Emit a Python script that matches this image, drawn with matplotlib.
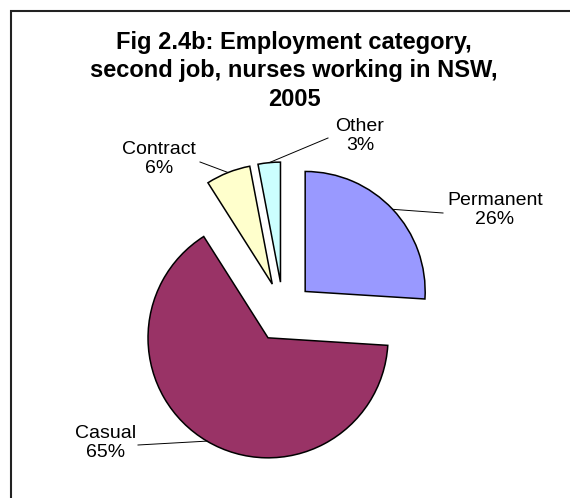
import numpy as np
import matplotlib
matplotlib.use("Agg")
import matplotlib.pyplot as plt

# Employment category, second job (per cent)
categories = ["Permanent", "Casual", "Contract", "Other"]
shares = [26, 65, 6, 3]
colors = ["#9999FF", "#993366", "#FFFFCC", "#CCFFFF"]

W, H = 570, 498
fig = plt.figure(figsize=(W / 100, H / 100), dpi=100)
ax = fig.add_axes([0, 0, 1, 1])

plt.rcParams["font.family"] = ["Liberation Sans", "DejaVu Sans"]

# frame around the chart area (runs off the right and bottom)
ax.plot([11, 11, W + 10], [-10, H - 11, H - 11], color="#222222", lw=1.5,
        solid_joinstyle="miter", clip_on=False)

radius = 120
center = (283.3, H - 312)
explode = [30] * len(shares)

wedges, _ = ax.pie(shares, colors=colors, startangle=90, counterclock=False,
                   radius=radius, center=center, explode=explode,
                   wedgeprops=dict(edgecolor="black", linewidth=1.1),
                   frame=True)
ax.set_xlim(0, W)
ax.set_ylim(0, H)
ax.set_aspect("equal")
ax.axis("off")

# label block centres and leader-line end points (pixel space, y down)
label_pos = {"Permanent": (495, 210), "Casual": (106, 443),
             "Contract": (159, 159), "Other": (360, 136)}
leader_end = {"Permanent": (443, 213), "Casual": (138, 445),
              "Contract": (200, 162), "Other": (328, 138)}

for w, name, val in zip(wedges, categories, shares):
    mid = np.deg2rad(0.5 * (w.theta1 + w.theta2))
    cx, cy = w.center
    sx, sy = cx + w.r * np.cos(mid), cy + w.r * np.sin(mid)
    ex, ey = leader_end[name]
    ax.plot([sx, ex], [sy, H - ey], color="black", lw=0.7)
    lx, ly = label_pos[name]
    ax.text(lx, H - ly, f"{name}\n{val}%", ha="center", va="center",
            fontsize=14, linespacing=1.15, color="black")

fig.text(294 / W, 1 - 71 / H,
         "Fig 2.4b: Employment category,\nsecond job, nurses working in NSW,\n2005",
         ha="center", va="center", fontsize=17, fontweight="bold",
         linespacing=1.32)

fig.savefig("out.png", dpi=100, facecolor="white")
